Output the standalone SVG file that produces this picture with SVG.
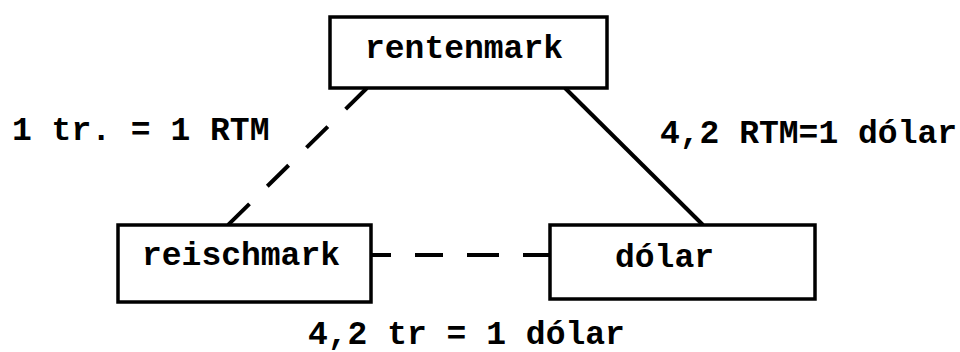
<svg xmlns="http://www.w3.org/2000/svg" width="960" height="352" viewBox="0 0 960 352">
<style>
.box{fill:#fff;stroke:#000;stroke-width:3.5}
.t{font-family:"Liberation Mono","Courier New",monospace;font-weight:bold;font-size:33px;fill:#000}
.c{stroke:#000;stroke-width:4;fill:none}
.d{stroke-dasharray:30 25}
</style>
<rect width="960" height="352" fill="#fff"/>
<g id="connectors">
<line class="c d" x1="367" y1="88" x2="228" y2="225"/>
<line class="c" x1="565" y1="88" x2="703" y2="225"/>
<line class="c" x1="371" y1="255" x2="550" y2="255" stroke-dasharray="20 24 28 24 32 24 28"/>
</g>
<g id="rentenmark"><rect class="box" x="330" y="17" width="277" height="71"/><text class="t" x="365" y="58">rentenmark</text></g>
<g id="reischmark"><rect class="box" x="118" y="225" width="253" height="77"/><text class="t" x="142" y="265">reischmark</text></g>
<g id="dolar"><rect class="box" x="550" y="225" width="265" height="74"/><text class="t" x="615" y="267">dólar</text></g>
<g id="labels">
<text class="t" x="12" y="140">1 tr. = 1 RTM</text>
<text class="t" x="660" y="143">4,2 RTM=1 dólar</text>
<text class="t" x="308" y="344">4,2 tr = 1 dólar</text>
</g>
</svg>
